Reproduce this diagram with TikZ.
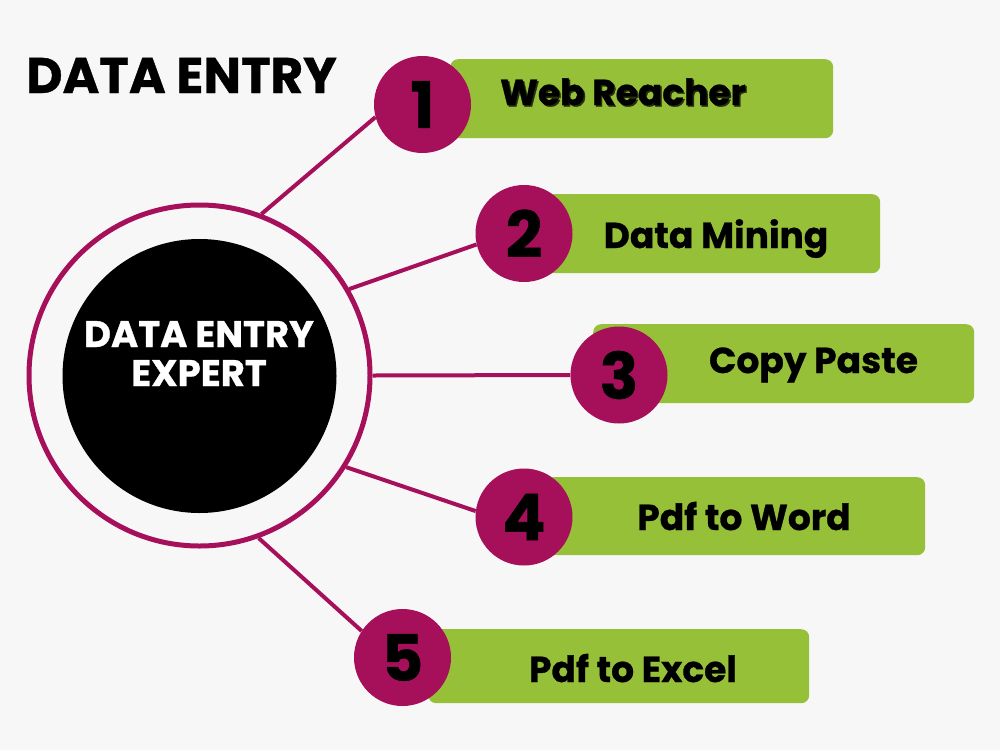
\documentclass[tikz,border=0pt]{standalone}
\usepackage{fontspec}
\setmainfont{Poppins}[BoldFeatures={FakeBold=0.8}]
\definecolor{bg}{RGB}{247,247,247}
\definecolor{maroon}{RGB}{166,16,90}
\definecolor{lime}{RGB}{151,192,57}
\begin{document}
\begin{tikzpicture}[x=1pt,y=-1pt,
  numcirc/.style={circle, fill=maroon, minimum size=97pt, inner sep=0pt,
    font=\bfseries\fontsize{64}{64}\selectfont, text=black},
  labelbox/.style={rectangle, rounded corners=8pt, fill=lime, anchor=north west, inner sep=0pt},
  labeltext/.style={font=\bfseries\fontsize{36}{36}\selectfont, anchor=base, inner sep=0pt, text=black},
  coretext/.style={font=\bfseries\fontsize{37}{37}\selectfont, anchor=base, inner sep=0pt, text=white},
  link/.style={draw=maroon, line width=4pt}]
\fill[bg] (0,0) rectangle (1000,750);
\useasboundingbox (0,0) rectangle (1000,750);

% title
\node[font=\bfseries\fontsize{50}{50}\selectfont, anchor=base west, inner sep=0pt] (title) at (26,93) {DATA ENTRY};

% central circle
\node[circle, draw=maroon, line width=5pt, minimum size=341pt, inner sep=0pt] (ring) at (199.5,375.5) {};
\node[circle, fill=black, minimum size=274pt, inner sep=0pt] (core) at (199.5,376) {};
\node[coretext] (ct1) at (199,347) {DATA ENTRY};
\node[coretext] (ct2) at (199,386) {EXPERT};

% label boxes
\node[labelbox, minimum width=383pt, minimum height=79pt] (b1) at (450,59) {};
\node[labelbox, minimum width=335pt, minimum height=79pt] (b2) at (545,194) {};
\node[labelbox, minimum width=381pt, minimum height=79pt] (b3) at (593,324) {};
\node[labelbox, minimum width=380pt, minimum height=78pt] (b4) at (545,477) {};
\node[labelbox, minimum width=381pt, minimum height=74pt] (b5) at (428,629) {};

% number circles
\node[numcirc] (n1) at (422.5,104.5) {1};
\node[numcirc] (n2) at (524,233.5) {2};
\node[numcirc] (n3) at (619,375) {3};
\node[numcirc] (n4) at (524,517) {4};
\node[numcirc] (n5) at (402.5,657.5) {5};

% label texts
\node[labeltext, text=black!75!lime] (t1s) at (624.5,106.5) {Web Reacher};
\node[labeltext] (t1) at (623,105) {Web Reacher};
\node[labeltext] (t2) at (716,248) {Data Mining};
\node[labeltext] (t3) at (813.5,373) {Copy Paste};
\node[labeltext] (t4) at (744,530) {Pdf to Word};
\node[labeltext] (t5) at (633,682) {Pdf to Excel};

% connectors
\draw[link] (ring.69.6) -- (n1.195.3);
\draw[link] (ring.30.8) -- (n2.193.7);
\draw[link] (ring.0) -- (n3.180);
\draw[link] (ring.-32.6) -- (n4.173);
\draw[link] (ring.-70.7) -- (n5.147.8);
\end{tikzpicture}
\end{document}
